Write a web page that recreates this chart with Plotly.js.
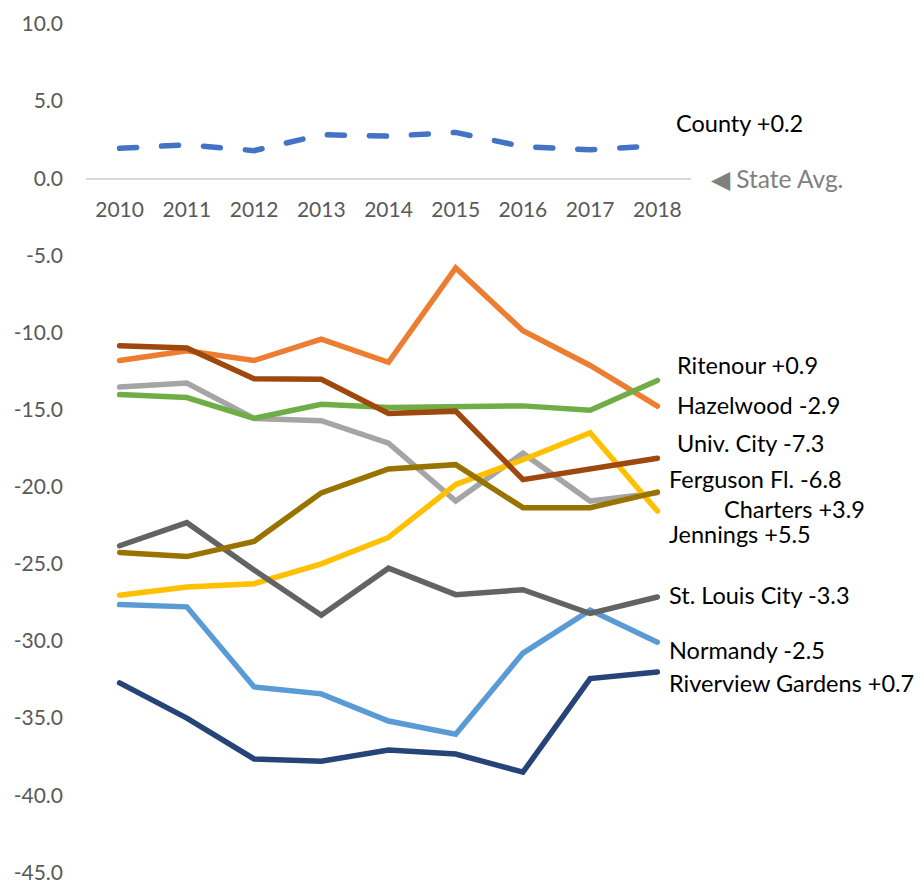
<!DOCTYPE html>
<html>
<head>
<meta charset="utf-8">
<script src="https://cdn.plot.ly/plotly-3.0.1.min.js"></script>
<style>
  html, body { margin: 0; padding: 0; background: #ffffff; }
  #chart { width: 924px; height: 886px; }
  .scatterlayer .js-line { stroke-linecap: round; }
</style>
</head>
<body>
<div id="chart"></div>
<script>
// ---- data ----
const years = ['2010', '2011', '2012', '2013', '2014', '2015', '2016', '2017', '2018'];
const county    = [1.94, 2.17, 1.79, 2.82, 2.73, 2.97, 2.05, 1.85, 2.11];
const hazelwood = [-11.82, -11.18, -11.82, -10.43, -11.93, -5.82, -9.89, -12.14, -14.78];
const ferguson  = [-13.54, -13.28, -15.57, -15.72, -17.18, -20.93, -17.83, -20.93, -20.40];
const jennings  = [-27.04, -26.50, -26.29, -25.00, -23.29, -19.86, -18.25, -16.50, -21.58];
const normandy  = [-27.64, -27.79, -32.98, -33.43, -35.19, -36.05, -30.79, -28.00, -30.08];
const ritenour  = [-14.03, -14.22, -15.57, -14.65, -14.87, -14.82, -14.76, -15.04, -13.11];
const riverview = [-32.72, -35.00, -37.65, -37.80, -37.07, -37.33, -38.51, -32.44, -32.01];
const univCity  = [-10.86, -11.01, -13.00, -13.04, -15.25, -15.10, -19.54, -18.85, -18.15];
const stLouis   = [-23.83, -22.33, -25.40, -28.33, -25.28, -27.00, -26.68, -28.22, -27.15];
const charters  = [-24.26, -24.53, -23.55, -20.40, -18.85, -18.57, -21.36, -21.36, -20.35];

const yTickVals = [-45, -40, -35, -30, -25, -20, -15, -10, -5, 0, 5, 10];
const yTickText = yTickVals.map(v => v.toFixed(1));

const seriesNames  = ['County', 'Hazelwood', 'Ferguson Fl.', 'Jennings', 'Normandy', 'Ritenour',
                      'Riverview Gardens', 'Univ. City', 'St. Louis City', 'Charters'];
const seriesValues = [county, hazelwood, ferguson, jennings, normandy, ritenour,
                      riverview, univCity, stLouis, charters];
const seriesLabels = ['County +0.2', 'Hazelwood -2.9', 'Ferguson Fl. -6.8', 'Jennings +5.5',
                      'Normandy -2.5', 'Ritenour +0.9', 'Riverview Gardens +0.7',
                      'Univ. City -7.3', 'St. Louis City -3.3', 'Charters +3.9'];
const stateLabel = '\u25C0 State Avg.';

// ---- styles ----
const colors = ['#4472C4', '#ED7D31', '#A5A5A5', '#FFC000', '#5B9BD5', '#70AD47',
                '#264478', '#9E480E', '#636363', '#997300'];
const dashes = ['17px,25px', 'solid', 'solid', 'solid', 'solid', 'solid',
                'solid', 'solid', 'solid', 'solid'];
// label placement (y in axis units, x shift in px from the 2018 category)
const labelY     = [3.57, -14.69, -19.52, -23.05, -30.58, -12.12, -32.70, -17.14, -27.04, -21.45];
const labelShift = [17, 18, 10, 10, 10, 18, 10, 18, 10, 65];

const traces = seriesValues.map((vals, i) => ({
  type: 'scatter',
  mode: 'lines',
  name: seriesNames[i],
  x: years,
  y: vals,
  line: { color: colors[i], width: 5.5, dash: dashes[i] },
  hoverinfo: 'skip'
}));

const annotations = seriesLabels.map((t, i) => ({
  xref: 'x', yref: 'y', x: 8, y: labelY[i],
  xanchor: 'left', yanchor: 'middle', xshift: labelShift[i],
  text: t, showarrow: false,
  font: { family: 'Lato, sans-serif', size: 23.5, color: '#000000' }
}));
annotations.push({
  xref: 'x', yref: 'y', x: 8, y: 0,
  xanchor: 'left', yanchor: 'middle', xshift: 52,
  text: stateLabel, showarrow: false,
  font: { family: 'Lato, sans-serif', size: 24.5, color: '#808080' }
});

const yRange = [-45.5, 10];

const layout = {
  width: 924, height: 886,
  margin: { l: 86, r: 233, t: 24, b: 6 },
  paper_bgcolor: '#ffffff', plot_bgcolor: '#ffffff',
  showlegend: false,
  font: { family: 'Lato, sans-serif', color: '#595959' },
  xaxis: {
    type: 'category', range: [-0.5, 8.5],
    anchor: 'free', position: -yRange[0] / (yRange[1] - yRange[0]),
    showline: true, linecolor: '#D9D9D9', linewidth: 1.5,
    showgrid: false, zeroline: false, ticks: '',
    tickfont: { family: 'Lato, sans-serif', size: 21, color: '#595959' },
    ticklabelstandoff: 12, fixedrange: true
  },
  yaxis: {
    range: yRange, tickmode: 'array', tickvals: yTickVals, ticktext: yTickText,
    showgrid: false, zeroline: false, showline: false, ticks: '',
    ticklabeloverflow: 'allow',
    tickfont: { family: 'Lato, sans-serif', size: 21, color: '#595959' },
    ticklabelstandoff: 22, fixedrange: true
  },
  annotations: annotations
};

Plotly.newPlot('chart', traces, layout, { displayModeBar: false, staticPlot: true });
</script>
</body>
</html>
